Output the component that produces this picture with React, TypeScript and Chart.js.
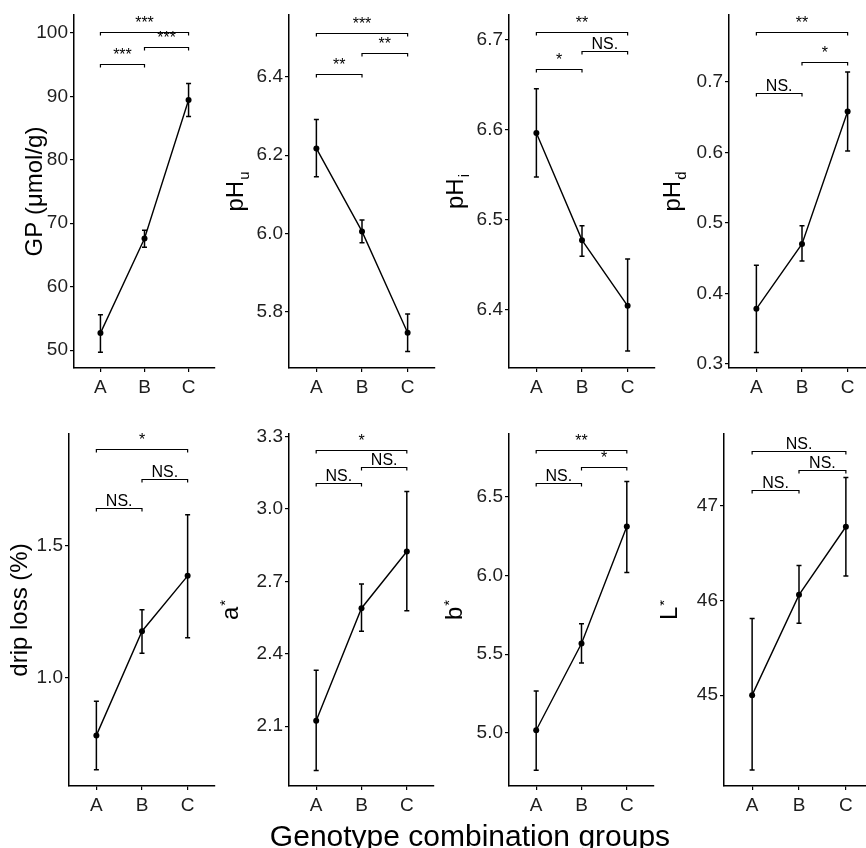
import React, { useEffect, useRef } from 'react';
import { Chart, registerables } from 'chart.js';

Chart.register(...registerables);

// ---------- data ----------
const groups = ['A', 'B', 'C'];
const pairs: number[][] = [[0, 1], [1, 2], [0, 2]];

const gpMean = [52.7, 67.6, 89.4];
const gpLow = [49.7, 66.2, 86.8];
const gpHigh = [55.6, 68.9, 92.0];
const gpTicks = ['50', '60', '70', '80', '90', '100'];
const gpSigY = [95.1, 97.7, 100.2];
const gpSig = ['***', '***', '***'];

const phuMean = [6.217, 6.005, 5.746];
const phuLow = [6.145, 5.976, 5.698];
const phuHigh = [6.291, 6.034, 5.794];
const phuTicks = ['5.8', '6.0', '6.2', '6.4'];
const phuSigY = [6.407, 6.462, 6.513];
const phuSig = ['**', '**', '***'];

const phiMean = [6.596, 6.477, 6.404];
const phiLow = [6.547, 6.459, 6.354];
const phiHigh = [6.645, 6.493, 6.456];
const phiTicks = ['6.4', '6.5', '6.6', '6.7'];
const phiSigY = [6.667, 6.687, 6.708];
const phiSig = ['*', 'NS.', '**'];

const phdMean = [0.378, 0.47, 0.658];
const phdLow = [0.316, 0.446, 0.602];
const phdHigh = [0.44, 0.496, 0.714];
const phdTicks = ['0.3', '0.4', '0.5', '0.6', '0.7'];
const phdSigY = [0.685, 0.729, 0.771];
const phdSig = ['NS.', '*', '**'];

const dripMean = [0.782, 1.177, 1.387];
const dripLow = [0.652, 1.093, 1.152];
const dripHigh = [0.911, 1.258, 1.619];
const dripTicks = ['1.0', '1.5'];
const dripSigY = [1.646, 1.753, 1.867];
const dripSig = ['NS.', 'NS.', '*'];

const aMean = [2.122, 2.589, 2.824];
const aLow = [1.916, 2.493, 2.578];
const aHigh = [2.332, 2.689, 3.073];
const aTicks = ['2.1', '2.4', '2.7', '3.0', '3.3'];
const aSigY = [3.106, 3.174, 3.245];
const aSig = ['NS.', 'NS.', '*'];

const bMean = [5.017, 5.568, 6.311];
const bLow = [4.763, 5.445, 6.019];
const bHigh = [5.267, 5.693, 6.598];
const bTicks = ['5.0', '5.5', '6.0', '6.5'];
const bSigY = [6.589, 6.691, 6.797];
const bSig = ['NS.', '*', '**'];

const lMean = [45.0, 46.06, 46.78];
const lLow = [44.21, 45.76, 46.26];
const lHigh = [45.81, 46.37, 47.3];
const lTicks = ['45', '46', '47'];
const lSigY = [47.17, 47.38, 47.585];
const lSig = ['NS.', 'NS.', 'NS.'];

const xTitle = 'Genotype combination groups';

// ---------- layout ----------
const FONT = '"Liberation Sans", Arial, Helvetica, sans-serif';
const CW = 220;
const CH = 410;

interface Panel {
  main: string; sub: string; sup: string;
  mean: number[]; low: number[]; high: number[];
  ticks: string[]; sigY: number[]; sig: string[];
  yMin: number; yMax: number;
  row: number; col: number;
  left: number; right: number; top: number; bottom: number;
  labelX: number;
}

const panels: Panel[] = [
  { main: 'GP (μmol/g)', sub: '', sup: '', mean: gpMean, low: gpLow, high: gpHigh, ticks: gpTicks, sigY: gpSigY, sig: gpSig,
    yMin: 47.2, yMax: 102.8, row: 0, col: 0, left: 74, right: 215, top: 15, bottom: 368, labelX: 42 },
  { main: 'pH', sub: 'u', sup: '', mean: phuMean, low: phuLow, high: phuHigh, ticks: phuTicks, sigY: phuSigY, sig: phuSig,
    yMin: 5.656, yMax: 6.558, row: 0, col: 1, left: 69, right: 215, top: 15, bottom: 368, labelX: 23 },
  { main: 'pH', sub: 'i', sup: '', mean: phiMean, low: phiLow, high: phiHigh, ticks: phiTicks, sigY: phiSigY, sig: phiSig,
    yMin: 6.335, yMax: 6.727, row: 0, col: 2, left: 69, right: 215, top: 15, bottom: 368, labelX: 23 },
  { main: 'pH', sub: 'd', sup: '', mean: phdMean, low: phdLow, high: phdHigh, ticks: phdTicks, sigY: phdSigY, sig: phdSig,
    yMin: 0.294, yMax: 0.795, row: 0, col: 3, left: 69, right: 215, top: 15, bottom: 368, labelX: 20 },
  { main: 'drip loss (%)', sub: '', sup: '', mean: dripMean, low: dripLow, high: dripHigh, ticks: dripTicks, sigY: dripSigY, sig: dripSig,
    yMin: 0.59, yMax: 1.925, row: 1, col: 0, left: 69, right: 215, top: 14, bottom: 366, labelX: 27 },
  { main: 'a', sub: '', sup: '*', mean: aMean, low: aLow, high: aHigh, ticks: aTicks, sigY: aSigY, sig: aSig,
    yMin: 1.852, yMax: 3.311, row: 1, col: 1, left: 69, right: 214, top: 14, bottom: 366, labelX: 18 },
  { main: 'b', sub: '', sup: '*', mean: bMean, low: bLow, high: bHigh, ticks: bTicks, sigY: bSigY, sig: bSig,
    yMin: 4.663, yMax: 6.899, row: 1, col: 2, left: 69, right: 214, top: 14, bottom: 366, labelX: 22 },
  { main: 'L', sub: '', sup: '*', mean: lMean, low: lLow, high: lHigh, ticks: lTicks, sigY: lSigY, sig: lSig,
    yMin: 44.04, yMax: 47.76, row: 1, col: 3, left: 64, right: 214, top: 14, bottom: 366, labelX: 17 },
];

function makeDecor(p: Panel) {
  return {
    id: 'decor',
    beforeDatasetsDraw(chart: any) {
      const ctx = chart.ctx as CanvasRenderingContext2D;
      const xs = chart.scales.x;
      const ys = chart.scales.y;
      ctx.save();
      ctx.strokeStyle = '#000';
      ctx.lineWidth = 1.5;
      p.mean.forEach((_, i) => {
        const x = xs.getPixelForValue(i);
        const y1 = ys.getPixelForValue(p.low[i]);
        const y2 = ys.getPixelForValue(p.high[i]);
        ctx.beginPath();
        ctx.moveTo(x, y1);
        ctx.lineTo(x, y2);
        ctx.moveTo(x - 2.5, y1);
        ctx.lineTo(x + 2.5, y1);
        ctx.moveTo(x - 2.5, y2);
        ctx.lineTo(x + 2.5, y2);
        ctx.stroke();
      });
      ctx.restore();
    },
    afterDraw(chart: any) {
      const ctx = chart.ctx as CanvasRenderingContext2D;
      const xs = chart.scales.x;
      const ys = chart.scales.y;
      ctx.save();
      // significance brackets
      ctx.strokeStyle = '#000';
      ctx.fillStyle = '#000';
      ctx.lineWidth = 1.2;
      pairs.forEach(([a, b], k) => {
        const x1 = xs.getPixelForValue(a);
        const x2 = xs.getPixelForValue(b);
        const y = Math.round(ys.getPixelForValue(p.sigY[k])) + 0.5;
        ctx.beginPath();
        ctx.moveTo(x1, y + 3);
        ctx.lineTo(x1, y);
        ctx.lineTo(x2, y);
        ctx.lineTo(x2, y + 3);
        ctx.stroke();
        const isStar = p.sig[k].indexOf('*') >= 0;
        ctx.font = `16px ${FONT}`;
        ctx.textAlign = 'center';
        ctx.textBaseline = 'alphabetic';
        ctx.fillText(p.sig[k], (x1 + x2) / 2, y - (isStar ? 5 : 3));
      });
      // y-axis label with sub/superscript
      const area = chart.chartArea;
      const cy = (area.top + area.bottom) / 2;
      const mainSize = 24;
      const smallSize = 15;
      ctx.font = `${mainSize}px ${FONT}`;
      const wMain = ctx.measureText(p.main).width;
      ctx.font = `${smallSize}px ${FONT}`;
      const extra = p.sub || p.sup;
      const wSmall = extra ? ctx.measureText(extra).width + 1 : 0;
      const total = wMain + wSmall;
      ctx.translate(p.labelX, cy);
      ctx.rotate(-Math.PI / 2);
      ctx.fillStyle = '#000';
      ctx.textAlign = 'left';
      ctx.textBaseline = 'alphabetic';
      ctx.font = `${mainSize}px ${FONT}`;
      ctx.fillText(p.main, -total / 2, 0);
      if (p.sub) {
        ctx.font = `${smallSize}px ${FONT}`;
        ctx.fillText(p.sub, -total / 2 + wMain + 1, 6);
      }
      if (p.sup) {
        ctx.font = `${smallSize}px ${FONT}`;
        ctx.fillText(p.sup, -total / 2 + wMain + 1, -8);
      }
      ctx.restore();
    },
  };
}

function PanelChart({ p }: { p: Panel }) {
  const ref = useRef<HTMLCanvasElement>(null);
  useEffect(() => {
    if (!ref.current) return;
    const tickFont = { family: FONT, size: 19 };
    const chart = new Chart(ref.current, {
      type: 'line',
      data: {
        datasets: [
          {
            data: p.mean.map((v, i) => ({ x: i, y: v })),
            borderColor: '#000',
            borderWidth: 1.4,
            pointRadius: 3,
            pointBackgroundColor: '#000',
            pointBorderColor: '#000',
            pointBorderWidth: 0,
            tension: 0,
            clip: false as any,
          },
        ],
      },
      options: {
        animation: false,
        responsive: false,
        devicePixelRatio: 1,
        layout: { padding: { left: 0, right: CW - p.right, top: p.top, bottom: 0 } },
        plugins: { legend: { display: false }, tooltip: { enabled: false } },
        scales: {
          x: {
            type: 'linear',
            min: -0.6,
            max: 2.6,
            afterBuildTicks: (s: any) => {
              s.ticks = groups.map((_, i) => ({ value: i }));
            },
            afterFit: (s: any) => {
              s.height = CH - p.bottom;
            },
            ticks: {
              callback: (v: any) => groups[Math.round(Number(v))],
              font: tickFont,
              color: '#1e1e1e',
              padding: 4,
              maxRotation: 0,
              autoSkip: false,
            },
            grid: { display: true, drawOnChartArea: false, drawTicks: true, tickLength: 4, color: '#000', lineWidth: 1.2 },
            border: { display: true, color: '#000', width: 1.5 },
          },
          y: {
            type: 'linear',
            min: p.yMin,
            max: p.yMax,
            afterBuildTicks: (s: any) => {
              s.ticks = p.ticks.map((t) => ({ value: parseFloat(t) }));
            },
            afterFit: (s: any) => {
              s.width = p.left;
            },
            ticks: {
              callback: (_v: any, idx: number) => p.ticks[idx],
              font: tickFont,
              color: '#1e1e1e',
              padding: 2,
              autoSkip: false,
            },
            grid: { display: true, drawOnChartArea: false, drawTicks: true, tickLength: 4, color: '#000', lineWidth: 1.2 },
            border: { display: true, color: '#000', width: 1.5 },
          },
        },
      } as any,
      plugins: [makeDecor(p)],
    });
    return () => chart.destroy();
  }, [p]);
  return (
    <canvas
      ref={ref}
      width={CW}
      height={CH}
      style={{
        position: 'absolute',
        left: p.col * CW,
        top: p.row * 420,
        width: CW,
        height: CH,
      }}
    />
  );
}

export default function App() {
  return (
    <div
      style={{
        position: 'absolute',
        left: 0,
        top: 0,
        width: 866,
        height: 848,
        overflow: 'hidden',
        background: '#fff',
      }}
    >
      {panels.map((p, i) => (
        <PanelChart key={i} p={p} />
      ))}
      <div
        style={{
          position: 'absolute',
          left: 170,
          width: 600,
          top: 821,
          textAlign: 'center',
          fontFamily: FONT,
          fontSize: 30,
          lineHeight: '30px',
          color: '#000',
          zIndex: 2,
        }}
      >
        {xTitle}
      </div>
    </div>
  );
}
